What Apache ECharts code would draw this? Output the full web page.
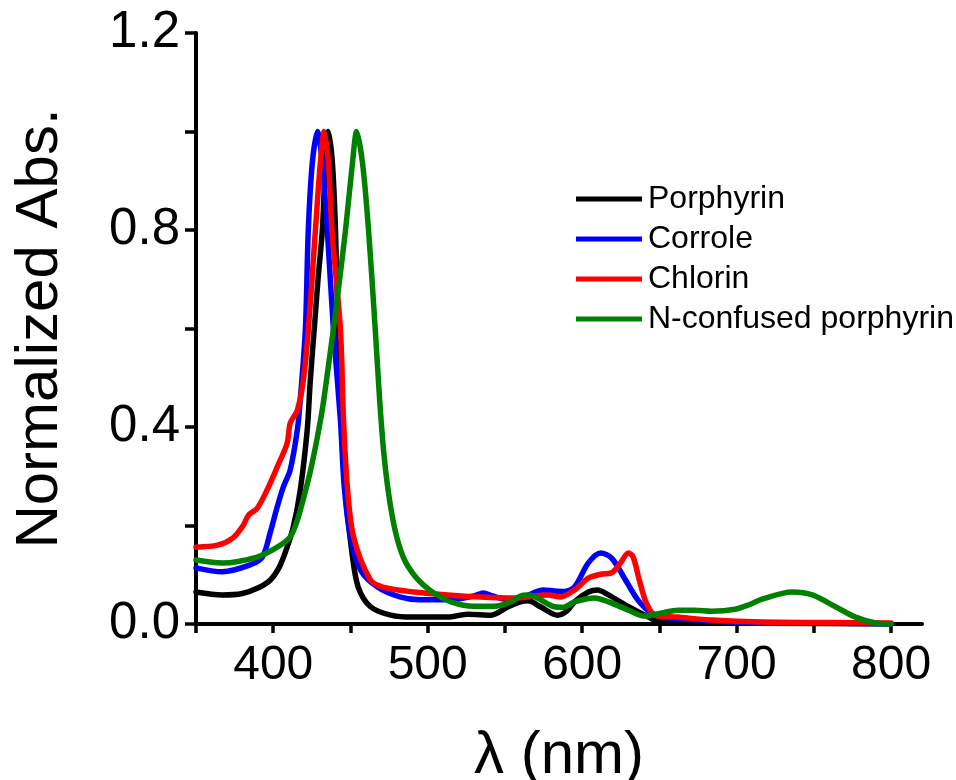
<!DOCTYPE html>
<html>
<head>
<meta charset="utf-8">
<script src="https://cdn.jsdelivr.net/npm/echarts@6/dist/echarts.min.js"></script>
<style>
  html, body { margin: 0; padding: 0; background: #fff; }
  #chart { width: 956px; height: 780px; }
</style>
</head>
<body>
<div id="chart"></div>
<script>
// spectra: [wavelength nm, normalized absorbance]
const porphyrin = [
  [350, 0.065], [367, 0.059], [380, 0.062], [390, 0.073], [398, 0.089], [404, 0.116],
  [409, 0.156], [413, 0.197], [417.5, 0.272], [422, 0.394], [424, 0.495], [427, 0.617],
  [429, 0.7], [431.8, 0.8], [433.8, 0.936], [435.7, 1.0], [438.3, 0.936], [440.3, 0.8],
  [442, 0.597], [443.5, 0.48], [446.5, 0.278], [451, 0.144], [455, 0.075], [463, 0.035],
  [476, 0.018], [490, 0.014], [513, 0.014], [526, 0.02], [541, 0.018], [552, 0.035],
  [560, 0.045], [565, 0.047], [573, 0.035], [584, 0.018], [590, 0.026], [595, 0.045],
  [604, 0.065], [610, 0.069], [617, 0.059], [630, 0.035], [643, 0.014], [651, 0.004],
  [700, 0.002], [800, 0.0]
]
const corrole = [
  [350, 0.114], [367, 0.106], [385, 0.12], [393, 0.136], [398, 0.185], [402.6, 0.238],
  [406.5, 0.278], [411, 0.313], [415.6, 0.394], [417.5, 0.455], [420.8, 0.597], [422.7, 0.8],
  [425.3, 0.936], [428.6, 1.0], [431.8, 0.936], [435, 0.8], [439, 0.597], [443.5, 0.414],
  [446, 0.278], [450, 0.177], [456.5, 0.11], [467.5, 0.075], [482, 0.055], [495, 0.049],
  [513, 0.049], [530, 0.057], [536, 0.063], [542, 0.057], [552, 0.049], [562, 0.055],
  [575, 0.069], [582, 0.067], [588, 0.066], [595, 0.075], [604, 0.124], [612, 0.144],
  [619, 0.134], [627, 0.095], [636, 0.049], [645, 0.022], [656, 0.012], [677, 0.008],
  [699, 0.004], [760, 0.002], [800, 0.0]
]
const chlorin = [
  [350, 0.156], [364, 0.16], [374, 0.175], [380.5, 0.2], [384, 0.221], [389.6, 0.235],
  [396, 0.272], [402.6, 0.319], [409, 0.367], [411, 0.408], [415.6, 0.434], [419.5, 0.495],
  [422.7, 0.597], [427.3, 0.8], [430.5, 0.936], [433, 1.0], [435.7, 0.936], [438, 0.8],
  [443.5, 0.597], [445.5, 0.414], [448, 0.278], [452, 0.177], [463, 0.089], [471, 0.075],
  [491, 0.065], [513, 0.059], [534, 0.055], [556, 0.053], [578, 0.059], [586, 0.055],
  [595, 0.069], [604, 0.093], [612, 0.101], [619, 0.104], [624, 0.12], [630, 0.144],
  [633, 0.136], [637, 0.089], [641.5, 0.043], [647, 0.018], [662, 0.014], [684, 0.008],
  [716, 0.004], [760, 0.003], [800, 0.002]
]
const nConfused = [
  [350, 0.13], [367, 0.124], [389.6, 0.136], [402.6, 0.156], [411, 0.177], [415.6, 0.211],
  [420, 0.26], [424, 0.31], [428, 0.37], [432, 0.44], [436, 0.53], [439, 0.6],
  [443, 0.7], [446.8, 0.8], [451.3, 0.936], [454, 1.0], [457.8, 0.936], [461.7, 0.8],
  [466, 0.6], [469, 0.45], [471.5, 0.35], [474, 0.28], [477, 0.22], [480.5, 0.17],
  [485, 0.13], [491, 0.1], [497, 0.08], [504, 0.063], [515, 0.045], [530, 0.036],
  [543, 0.036], [554, 0.045], [560, 0.057], [565, 0.059], [571, 0.053], [582, 0.035],
  [588, 0.034], [595, 0.045], [608, 0.053], [617, 0.045], [630, 0.028], [640, 0.016],
  [651, 0.022], [662, 0.028], [673, 0.028], [684, 0.026], [699, 0.03], [708, 0.039],
  [716, 0.05], [736, 0.065], [749, 0.059], [764, 0.035], [777, 0.014], [790, 0.002], [800, 0.0]
]

const seriesNames = ['Porphyrin', 'Corrole', 'Chlorin', 'N-confused porphyrin']
const seriesData = [porphyrin, corrole, chlorin, nConfused]
const seriesColors = ['#000000', '#0000ff', '#ff0000', '#008000']

const xTicks = [350, 400, 450, 500, 550, 600, 650, 700, 750, 800]
const xLabels = [400, 500, 600, 700, 800]
const yTicks = [0, 0.2, 0.4, 0.6, 0.8, 1.0, 1.2]
const yLabels = [0, 0.4, 0.8, 1.2]

const font = 'Liberation Sans, Arial, sans-serif'
const chart = echarts.init(document.getElementById('chart'))

const option = {
  backgroundColor: '#ffffff',
  animation: false,
  grid: { left: 196, right: 34, top: 33, bottom: 156, outerBoundsMode: 'none' },
  legend: {
    orient: 'vertical',
    left: 571,
    top: 178,
    itemWidth: 66,
    itemHeight: 5,
    itemGap: 8,
    icon: 'rect',
    data: seriesNames,
    textStyle: { fontFamily: font, fontSize: 32, color: '#000', lineHeight: 32, padding: [0, 0, 0, 1] }
  },
  xAxis: {
    type: 'value',
    min: 350,
    max: 820,
    name: 'λ (nm)',
    nameLocation: 'middle',
    nameGap: 102,
    nameTextStyle: { fontFamily: font, fontSize: 60, color: '#000' },
    axisLine: { lineStyle: { color: '#000', width: 4 } },
    axisTick: { customValues: xTicks, length: 9, lineStyle: { color: '#000', width: 3.5 } },
    axisLabel: { customValues: xLabels, margin: 18, fontFamily: font, fontSize: 48, color: '#000' },
    splitLine: { show: false }
  },
  yAxis: {
    type: 'value',
    min: 0,
    max: 1.2,
    name: 'Normalized Abs.',
    nameLocation: 'middle',
    nameGap: 126,
    nameTextStyle: { fontFamily: font, fontSize: 60, color: '#000' },
    axisLine: { show: true, lineStyle: { color: '#000', width: 4 } },
    axisTick: { show: true, customValues: yTicks, length: 11, lineStyle: { color: '#000', width: 3.5 } },
    axisLabel: {
      customValues: yLabels,
      margin: 16,
      fontFamily: font,
      fontSize: 51,
      color: '#000',
      formatter: v => v.toFixed(1)
    },
    splitLine: { show: false }
  },
  series: seriesNames.map((name, i) => ({
    name: name,
    type: 'line',
    data: seriesData[i],
    smooth: 0.3,
    showSymbol: false,
    itemStyle: { color: seriesColors[i] },
    lineStyle: { color: seriesColors[i], width: 5.5, cap: 'round', join: 'round' },
    z: 2 + i
  }))
}

chart.setOption(option)
</script>
</body>
</html>
